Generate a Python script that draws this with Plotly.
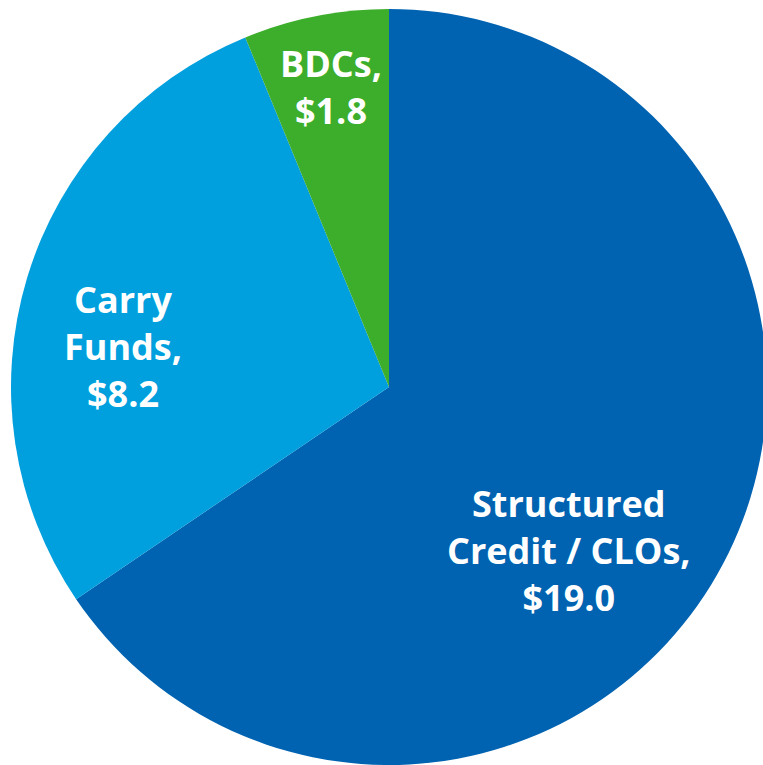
import math
import plotly.graph_objects as go

labels = ["Structured<br>Credit / CLOs", "Carry<br>Funds", "BDCs"]
values = [19.0, 8.2, 1.8]
colors = ["#0063B1", "#009FDE", "#3DAE2B"]

# label placement style (radius fraction, angle nudge in degrees) per slice
label_radius = [0.644, 0.712, 0.808]
label_nudge = [14.4, -8.0, 0.3]

W, H = 771, 765
dom_x = [11 / W, 767 / W]
dom_y = [0 / H, 756 / H]

fig = go.Figure(go.Pie(
    labels=labels,
    values=values,
    sort=False,
    direction="clockwise",
    rotation=0,
    marker=dict(colors=colors, line=dict(width=0)),
    textinfo="none",
    domain=dict(x=dom_x, y=dom_y),
    hoverinfo="label+value",
))

# label positions derived from slice angles
cx = (dom_x[0] + dom_x[1]) / 2 * W
cy = (dom_y[0] + dom_y[1]) / 2 * H
R = min((dom_x[1] - dom_x[0]) * W, (dom_y[1] - dom_y[0]) * H) / 2
total = sum(values)
cum = 0.0
for lab, v, rf, nd in zip(labels, values, label_radius, label_nudge):
    mid = (cum + v / 2) / total * 360 + nd
    cum += v
    th = math.radians(mid)
    px = cx + rf * R * math.sin(th)
    py = cy + rf * R * math.cos(th)
    fig.add_annotation(
        x=px / W, y=py / H, xref="paper", yref="paper",
        xanchor="center", yanchor="middle", showarrow=False,
        text=f"<b>{lab},<br>${v:.1f}</b>",
        font=dict(family="Open Sans", size=36, color="white"),
        align="center",
    )

fig.update_layout(
    width=W, height=H,
    margin=dict(l=0, r=0, t=0, b=0),
    showlegend=False,
    paper_bgcolor="white",
)

fig.write_html(
    "out.html",
    config={"displayModeBar": False},
    post_script="document.body.style.margin='0';document.body.style.overflow='hidden';",
)
